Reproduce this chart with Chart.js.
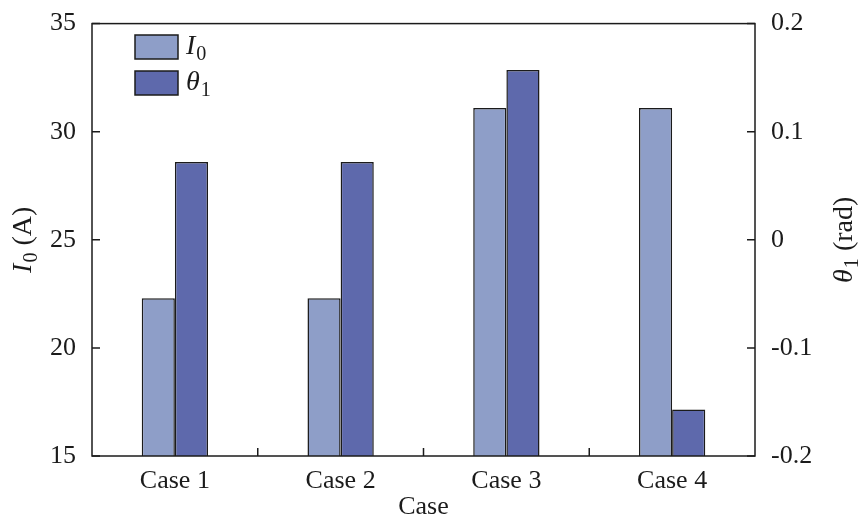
<!DOCTYPE html>
<html>
<head>
<meta charset="utf-8">
<script src="https://cdn.jsdelivr.net/npm/chart.js@4"></script>
<style>
  html, body { margin: 0; padding: 0; background: #fff; }
  #wrap { width: 868px; height: 528px; }
</style>
</head>
<body>
<div id="wrap"><canvas id="c"></canvas></div>
<script>
const cases = ['Case 1', 'Case 2', 'Case 3', 'Case 4'];
const currentI0 = [22.3, 22.3, 31.1, 31.1];
const angleTheta1 = [0.072, 0.072, 0.157, -0.157];
const leftTicks = [15, 20, 25, 30, 35];
const rightTicks = [-0.2, -0.1, 0, 0.1, 0.2];

const FONT = "'Liberation Serif', 'DejaVu Serif', serif";
const INK = '#1b1b1b';

// draws the italic symbol with a subscript, returns end x
function drawSub(ctx, x, y, sym, sub, size, rest) {
  ctx.font = `italic ${size}px ${FONT}`;
  ctx.fillText(sym, x, y);
  x += ctx.measureText(sym).width + 1;
  ctx.font = `${size * 0.72}px ${FONT}`;
  ctx.fillText(sub, x, y + size * 0.28);
  x += ctx.measureText(sub).width;
  if (rest) {
    ctx.font = `${size}px ${FONT}`;
    ctx.fillText(rest, x, y);
    x += ctx.measureText(rest).width;
  }
  return x;
}

function subWidth(ctx, sym, sub, size, rest) {
  ctx.font = `italic ${size}px ${FONT}`;
  let w = ctx.measureText(sym).width + 1;
  ctx.font = `${size * 0.72}px ${FONT}`;
  w += ctx.measureText(sub).width;
  ctx.font = `${size}px ${FONT}`;
  if (rest) w += ctx.measureText(rest).width;
  return w;
}

const decorations = {
  id: 'decorations',
  afterDraw(chart) {
    const { ctx, chartArea: a, scales } = chart;
    ctx.save();
    ctx.strokeStyle = INK;
    ctx.lineWidth = 1.5;
    ctx.strokeRect(a.left, a.top, a.right - a.left, a.bottom - a.top);

    // inward ticks
    const t = 8;
    ctx.beginPath();
    leftTicks.forEach((v) => {
      const y = scales.y.getPixelForValue(v);
      ctx.moveTo(a.left, y); ctx.lineTo(a.left + t, y);
    });
    rightTicks.forEach((v) => {
      const y = scales.y1.getPixelForValue(v);
      ctx.moveTo(a.right, y); ctx.lineTo(a.right - t, y);
    });
    for (let i = 0; i < cases.length - 1; i++) {
      const x = (scales.x.getPixelForValue(i) + scales.x.getPixelForValue(i + 1)) / 2;
      ctx.moveTo(x, a.bottom); ctx.lineTo(x, a.bottom - t);
    }
    ctx.stroke();

    // legend
    ctx.fillStyle = INK;
    ctx.textBaseline = 'middle';
    const items = [
      { color: chart.data.datasets[0].backgroundColor, sym: 'I', sub: '0', y: 47 },
      { color: chart.data.datasets[1].backgroundColor, sym: 'θ', sub: '1', y: 83 }
    ];
    items.forEach((it) => {
      ctx.fillStyle = it.color;
      ctx.fillRect(135, it.y - 12, 43, 24);
      ctx.strokeRect(135, it.y - 12, 43, 24);
      ctx.fillStyle = INK;
      drawSub(ctx, 186, it.y, it.sym, it.sub, 28);
    });

    // axis titles
    ctx.textBaseline = 'middle';
    const midY = (a.top + a.bottom) / 2;
    ctx.save();
    ctx.translate(24, midY);
    ctx.rotate(-Math.PI / 2);
    let w = subWidth(ctx, 'I', '0', 28, ' (A)');
    drawSub(ctx, -w / 2, 0, 'I', '0', 28, ' (A)');
    ctx.restore();

    ctx.save();
    ctx.translate(845, midY);
    ctx.rotate(-Math.PI / 2);
    w = subWidth(ctx, 'θ', '1', 28, ' (rad)');
    drawSub(ctx, -w / 2, 0, 'θ', '1', 28, ' (rad)');
    ctx.restore();

    ctx.font = `26px ${FONT}`;
    ctx.textAlign = 'center';
    ctx.fillText('Case', (a.left + a.right) / 2, 507);
    ctx.restore();
  }
};

new Chart(document.getElementById('c'), {
  type: 'bar',
  data: {
    labels: cases,
    datasets: [
      {
        label: 'I0', data: currentI0, yAxisID: 'y', base: 15,
        backgroundColor: '#8E9EC8', borderColor: INK, borderWidth: 1.5,
        categoryPercentage: 0.4, barPercentage: 1
      },
      {
        label: 'θ1', data: angleTheta1, yAxisID: 'y1', base: -0.2,
        backgroundColor: '#5E69AC', borderColor: INK, borderWidth: 1.5,
        categoryPercentage: 0.4, barPercentage: 1
      }
    ]
  },
  options: {
    responsive: true,
    maintainAspectRatio: false,
    animation: false,
    layout: { padding: { top: 20 } },
    plugins: { legend: { display: false }, tooltip: { enabled: false } },
    scales: {
      x: {
        grid: { display: false }, border: { display: false },
        ticks: { color: INK, font: { family: FONT, size: 26 }, padding: 2 },
        afterFit(s) { s.height = 72; }
      },
      y: {
        position: 'left', min: 15, max: 35,
        afterBuildTicks(s) { s.ticks = leftTicks.map((v) => ({ value: v })); },
        grid: { display: false }, border: { display: false },
        ticks: { color: INK, font: { family: FONT, size: 26 }, padding: 8 },
        afterFit(s) { s.width = 92; }
      },
      y1: {
        position: 'right', min: -0.2, max: 0.2,
        afterBuildTicks(s) { s.ticks = rightTicks.map((v) => ({ value: v })); },
        grid: { display: false }, border: { display: false },
        ticks: {
          color: INK, font: { family: FONT, size: 26 }, padding: 8,
          callback: (v) => String(Math.round(v * 10) / 10)
        },
        afterFit(s) { s.width = 113; }
      }
    }
  },
  plugins: [decorations]
});
</script>
</body>
</html>
